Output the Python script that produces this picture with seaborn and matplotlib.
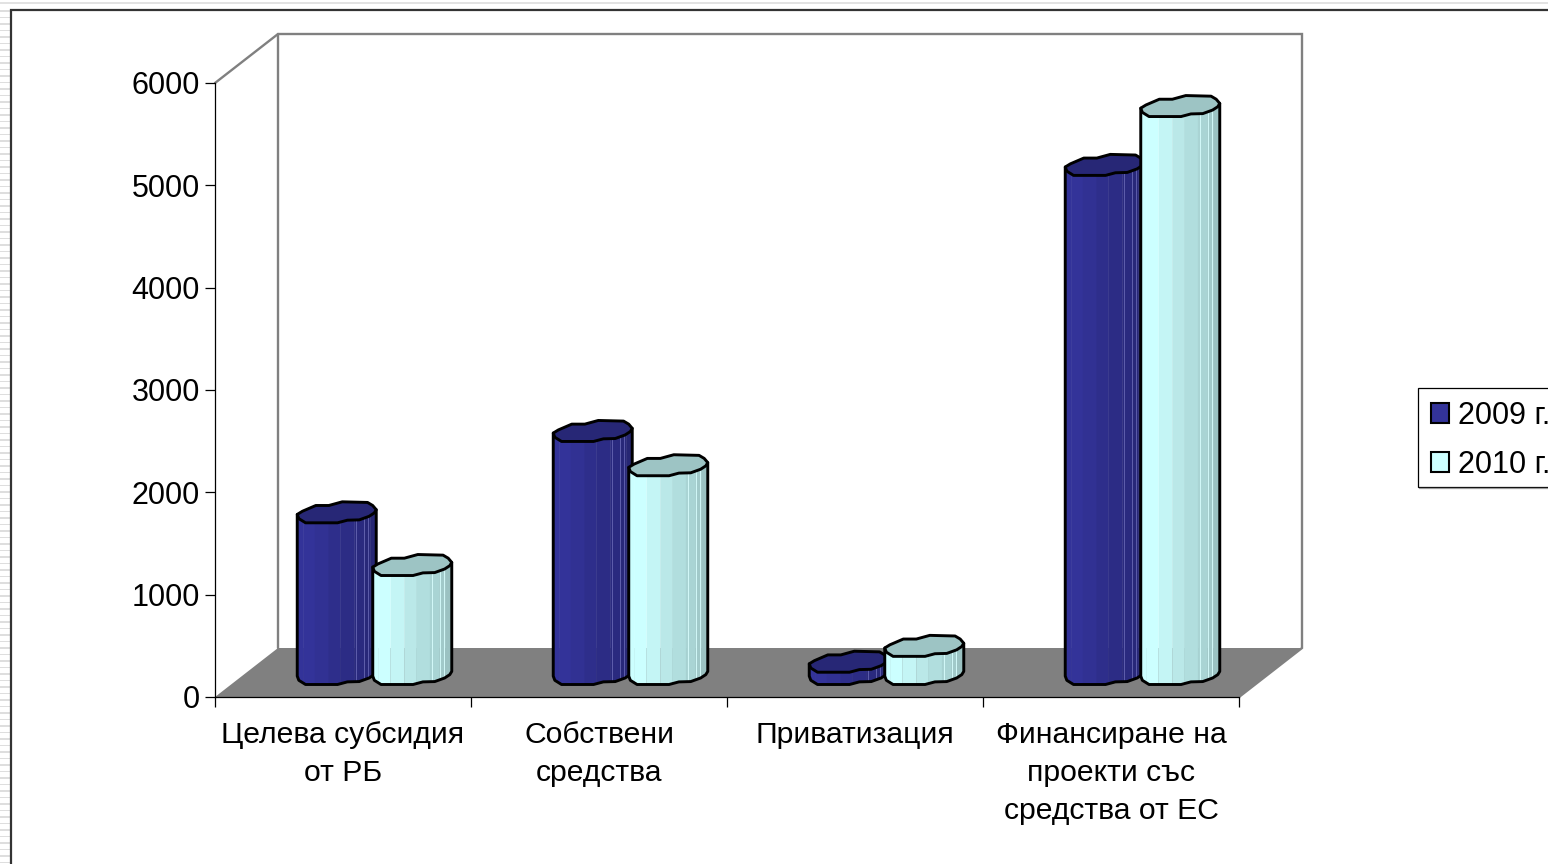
import numpy as np
import pandas as pd
import matplotlib
matplotlib.use("Agg")
import matplotlib.pyplot as plt
import seaborn as sns
from matplotlib.colors import to_rgb
from matplotlib.patches import Patch, Polygon, Rectangle
from matplotlib.transforms import IdentityTransform

categories = ["Целева субсидия\nот РБ", "Собствени\nсредства", "Приватизация",
              "Финансиране на\nпроекти със\nсредства от ЕС"]
series_names = ["2009 г.", "2010 г."]
values_2009 = [1580, 2375, 120, 4975]
values_2010 = [1065, 2040, 275, 5550]
y_ticks = [0, 1000, 2000, 3000, 4000, 5000, 6000]
colors = ["#333399", "#ccffff"]

df = pd.DataFrame({
    "category": categories * 2,
    "series": [series_names[0]] * 4 + [series_names[1]] * 4,
    "value": values_2009 + values_2010,
})

sns.set_theme(style="white")
plt.rcParams["font.family"] = ["Liberation Sans", "DejaVu Sans"]

W, H = 1548, 864
fig = plt.figure(figsize=(W / 100, H / 100), dpi=100, facecolor="white")

# full figure layer in reference pixels, y going down
bg = fig.add_axes([0, 0, 1, 1], zorder=0)
bg.set_xlim(0, W)
bg.set_ylim(H, 0)
bg.axis("off")

# page furniture round the chart
bg.add_patch(Rectangle((0, 2), W, 2, color="#e2e2e2", lw=0))
for sy in np.arange(10, H, 6.5):
    bg.add_patch(Rectangle((0, sy), 10, 1.8, color="#dedede", lw=0))
bg.plot([10.5, 10.5, W], [H, 9.5, 9.5], color="#333333", lw=1.6, solid_joinstyle="miter")

# back walls and floor of the 3d box
bg.add_patch(Polygon([(215, 697), (278, 648), (1302, 648), (1239, 697)], color="#808080", lw=0))
wall = "#808080"
bg.plot([215, 278, 1302, 1302, 1239], [83, 34, 34, 648, 697], color=wall, lw=1.7, solid_joinstyle="miter")
bg.plot([278, 278], [34, 648], color=wall, lw=1.7)

# legend frame runs off the right edge
bg.add_patch(Rectangle((1418, 388), 200, 98.5, facecolor="white", edgecolor="black", lw=0.9))
bg.plot([1419, W], [488, 488], color="#999999", lw=0.9)

ax = fig.add_axes([215 / W, 1 - 697 / H, 1024 / W, 614 / H], zorder=1)
ax.patch.set_alpha(0)

sns.barplot(data=df, x="category", y="value", hue="series", order=categories,
            hue_order=series_names, palette=colors, width=0.59, gap=0, saturation=1,
            legend=False, ax=ax)

ax.set_xlim(-0.5, 3.5)
ax.set_ylim(0, 6000)
ax.set_xlabel("")
ax.set_ylabel("")
ax.set_yticks(y_ticks)
ax.set_xticks(range(4), categories)
ax.set_xticks(np.arange(-0.5, 4), minor=True)
ax.tick_params(axis="y", length=7, width=0.9, color="black", pad=4, labelsize=22, left=True)
ax.tick_params(axis="x", which="major", length=0, pad=17, labelsize=21.7)
ax.tick_params(axis="x", which="minor", length=7, width=0.9, color="black", bottom=True)
for lab in ax.get_xticklabels():
    lab.set_linespacing(1.47)
for lab in ax.get_xticklabels() + ax.get_yticklabels():
    lab.set_color("black")
sns.despine(ax=ax)
for side in ["left", "bottom"]:
    ax.spines[side].set_color("black")
    ax.spines[side].set_linewidth(0.9)

# cross section of the faceted column, unit size
cap_u = [-1, -0.87, -0.53, -0.2, 0.14, 0.78, 0.91, 1, 0.95, 0.82, 0.57, 0.27, 0.02, -0.79, -0.96]
cap_v = [-0.2, 0.1, 0.65, 0.65, 1, 0.94, 0.65, 0.25, -0.06, -0.38, -0.72, -0.75, -1, -1, -0.6]
front_u = [-1, -0.96, -0.79, 0.02, 0.27, 0.57, 0.82, 0.95, 1]
front_v = [-0.2, -0.6, -1, -1, -0.75, -0.72, -0.38, -0.06, 0.25]
strip_u = [-1, -0.85, -0.55, -0.2, 0.1, 0.45, 0.7, 0.85, 1]
strip_f = [1.0, 1.0, 0.96, 0.91, 0.87, 0.83, 0.79, 0.76]
thin_u = [0.5, 0.69, 0.8]

half_w = 39.5
half_d = 10.5
shift_x = 31.5
shift_y = -23


def draw_column(x_mid, y_top, y_bot, base):
    base = np.array(to_rgb(base))
    v_at = lambda u: np.interp(u, front_u, front_v)
    for k, f in enumerate(strip_f):
        us = np.array([u for u in sorted(set(front_u + strip_u)) if strip_u[k] <= u <= strip_u[k + 1]])
        xs = x_mid + us * half_w
        top = y_top - v_at(us) * half_d
        bot = y_bot - v_at(us) * half_d
        pts = np.r_[np.c_[xs, top], np.c_[xs, bot][::-1]]
        ax.add_patch(Polygon(pts, color=base * f, lw=0.3, transform=bg.transData, clip_on=False, zorder=4))
    for u in thin_u:
        ax.plot([x_mid + u * half_w] * 2, [y_top - v_at(u) * half_d, y_bot - v_at(u) * half_d],
                color=base * 0.75 + 0.25, lw=0.6, transform=bg.transData, clip_on=False, zorder=4)
    # black outline of the side
    xs = x_mid + np.array(front_u) * half_w
    outline = np.r_[[[xs[0], y_top - front_v[0] * half_d]],
                    np.c_[xs, y_bot - np.array(front_v) * half_d],
                    [[xs[-1], y_top - front_v[-1] * half_d]]]
    ax.plot(outline[:, 0], outline[:, 1], color="black", lw=2.1, solid_joinstyle="round",
            transform=bg.transData, clip_on=False, zorder=4)
    cap = np.c_[x_mid + np.array(cap_u) * half_w, y_top - np.array(cap_v) * half_d]
    ax.add_patch(Polygon(cap, facecolor=base * 0.77, edgecolor="black", lw=2.1, joinstyle="round",
                         transform=bg.transData, clip_on=False, zorder=4))


# seaborn places the bars, the columns are drawn over the same spots
to_px = ax.transData + bg.transData.inverted()
for container in ax.containers:
    for bar in container.patches:
        (x0, y0), (x1, y1) = to_px.transform([(bar.get_x(), 0),
                                              (bar.get_x() + bar.get_width(), bar.get_height())])
        draw_column((x0 + x1) / 2 + shift_x, y1 + shift_y, y0 + shift_y, bar.get_facecolor()[:3])
        bar.set_visible(False)

handles = [Patch(facecolor=c, edgecolor="black", lw=1.5) for c in colors]
leg = ax.legend(handles, series_names, loc="upper left", bbox_to_anchor=(1417, H - 387),
                bbox_transform=IdentityTransform(), fontsize=22, frameon=False,
                handlelength=0.6, handleheight=0.6, handletextpad=0.3, labelspacing=0.62,
                borderpad=0.45, borderaxespad=0, labelcolor="black")

fig.savefig("out.png", dpi=100)
